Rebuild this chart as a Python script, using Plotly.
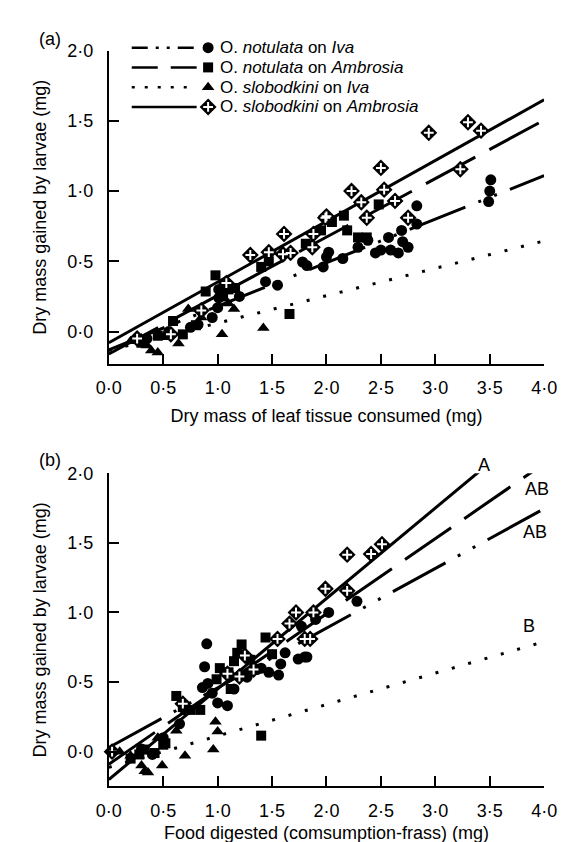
import plotly.graph_objects as go

W, H = 573, 842
FONT = "Liberation Sans, Arial, sans-serif"

# ---------------- tick labels ----------------
X_TICKS = [0, 0.5, 1.0, 1.5, 2.0, 2.5, 3.0, 3.5, 4.0]
X_TICK_TEXT = ["0·0", "0·5", "1·0", "1·5", "2·0", "2·5", "3·0", "3·5", "4·0"]
Y_TICKS = [0, 0.5, 1.0, 1.5, 2.0]
Y_TICK_TEXT = ["0·0", "0·5", "1·0", "1·5", "2·0"]

SERIES = ["notIva", "notAmb", "sloIva", "sloAmb"]
LEGEND_TEXT = ["O. <i>notulata</i> on <i>Iva</i>",
               "O. <i>notulata</i> on <i>Ambrosia</i>",
               "O. <i>slobodkini</i> on <i>Iva</i>",
               "O. <i>slobodkini</i> on <i>Ambrosia</i>"]

# ---------------- panel (a): consumed vs gained ----------------
a_notIva_x = [0.35, 0.55, 0.75, 0.82, 0.95, 1.0, 1.01, 1.01, 1.2, 1.44, 1.55, 1.78, 1.82, 1.97, 2.0, 2.02,
              2.15, 2.29, 2.38, 2.45, 2.5, 2.57, 2.59, 2.66, 2.69, 2.70, 2.75, 2.83, 2.83, 3.49, 3.5, 3.51]
a_notIva_y = [-0.05, 0.0, 0.03, 0.05, 0.1, 0.17, 0.24, 0.3, 0.25, 0.355, 0.33, 0.495, 0.47, 0.46, 0.53, 0.565,
              0.52, 0.6, 0.65, 0.56, 0.58, 0.67, 0.58, 0.56, 0.72, 0.64, 0.6, 0.765, 0.895, 0.925, 1.0, 1.08]
a_notAmb_x = [0.3, 0.45, 0.59, 0.68, 0.8, 0.89, 0.98, 1.05, 1.1, 1.16, 1.4, 1.47, 1.66, 1.81, 1.95, 2.05,
              2.16, 2.19, 2.29, 2.37, 2.48]
a_notAmb_y = [-0.08, -0.03, 0.075, -0.02, 0.045, 0.285, 0.4, 0.25, 0.3, 0.31, 0.46, 0.5, 0.125, 0.625, 0.72,
              0.78, 0.825, 0.72, 0.67, 0.67, 0.905]
a_sloIva_x = [0.2, 0.3, 0.35, 0.39, 0.45, 0.5, 0.64, 0.73, 0.85, 1.04, 1.1, 1.15, 1.42]
a_sloIva_y = [-0.07, -0.05, -0.1, -0.135, -0.15, -0.04, -0.085, 0.16, 0.1, -0.02, 0.2, 0.16, 0.025]
a_sloAmb_x = [0.26, 0.57, 0.85, 1.08, 1.3, 1.47, 1.6, 1.61, 1.67, 1.87, 1.88, 1.99, 2.0, 2.23, 2.32, 2.37,
              2.5, 2.53, 2.63, 2.75, 2.94, 3.23, 3.3, 3.42]
a_sloAmb_y = [-0.05, -0.02, 0.15, 0.345, 0.545, 0.565, 0.55, 0.695, 0.56, 0.60, 0.695, 0.81, 0.82, 1.0, 0.92,
              0.81, 1.165, 1.01, 0.93, 0.81, 1.415, 1.155, 1.49, 1.43]

# fitted regression lines (values read at x = 0 and x = 4)
FIT_X = [0, 4]
a_fit = {"notIva": [-0.13, 1.11], "notAmb": [-0.16, 1.505], "sloIva": [-0.135, 0.645], "sloAmb": [-0.08, 1.65]}

# ---------------- panel (b): digested vs gained ----------------
b_notIva_x = [0.3, 0.4, 0.5, 0.65, 0.7, 0.86, 0.88, 0.9, 0.91, 0.95, 1.0, 1.09, 1.15, 1.27, 1.36, 1.4, 1.47,
              1.56, 1.58, 1.62, 1.74, 1.77, 1.8, 1.82, 1.9, 2.02, 2.28]
b_notIva_y = [0.02, -0.02, 0.1, 0.2, 0.3, 0.46, 0.61, 0.775, 0.49, 0.42, 0.35, 0.33, 0.45, 0.535, 0.59, 0.6,
              0.57, 0.55, 0.63, 0.71, 0.665, 0.9, 0.68, 0.68, 0.95, 1.0, 1.08]
b_notAmb_x = [0.2, 0.28, 0.33, 0.42, 0.5, 0.52, 0.62, 0.68, 0.75, 0.84, 0.99, 1.02, 1.1, 1.12, 1.15, 1.18,
              1.22, 1.3, 1.4, 1.44, 1.5]
b_notAmb_y = [-0.05, -0.02, 0.015, -0.01, 0.05, 0.06, 0.4, 0.32, 0.3, 0.3, 0.52, 0.6, 0.57, 0.45, 0.65, 0.71,
              0.77, 0.66, 0.115, 0.82, 0.7]
b_sloIva_x = [0.1, 0.2, 0.3, 0.33, 0.36, 0.45, 0.49, 0.62, 0.7, 0.96, 0.98, 1.0]
b_sloIva_y = [0.0, -0.03, -0.1, -0.14, -0.15, 0.1, -0.1, 0.15, -0.03, 0.015, 0.215, 0.145]
b_sloAmb_x = [0.03, 0.68, 1.09, 1.2, 1.25, 1.33, 1.55, 1.66, 1.72, 1.8, 1.85, 1.88, 1.99, 2.19, 2.19, 2.41, 2.51]
b_sloAmb_y = [0.0, 0.345, 0.56, 0.54, 0.69, 0.59, 0.81, 0.92, 1.0, 0.81, 0.81, 1.0, 1.17, 1.155, 1.415, 1.42, 1.49]

b_fit = {"notIva": [0.03, 1.745], "notAmb": [-0.09, 2.07], "sloIva": [-0.113, 0.79], "sloAmb": [-0.2, 2.4]}

# significance letters and their positions in panel (b) data units
b_letters = ["A", "AB", "AB", "B"]
b_letters_x = [3.45, 3.93, 3.92, 3.86]
b_letters_y = [2.06, 1.89, 1.575, 0.90]

# ---------------- styles ----------------
MARKER = {
    "notIva": dict(symbol="circle", size=11, color="black"),
    "notAmb": dict(symbol="square", size=10, color="black"),
    "sloIva": dict(symbol="triangle-up", size=11, color="black"),
    "sloAmb": dict(symbol="diamond", size=13, color="black"),
}
CROSS = dict(symbol="cross-thin", size=7, color="white", line=dict(color="white", width=2))
DASH = {"notIva": "60px,14px,3px,14px,3px,14px", "notAmb": "56px,16px",
        "sloIva": "3px,14px", "sloAmb": "solid"}
LEG_DASH = {"notIva": "16px,8px,3px,8px,3px,8px", "notAmb": "26px,13px",
            "sloIva": "3px,10px", "sloAmb": "solid"}

data_a = {"notIva": (a_notIva_x, a_notIva_y), "notAmb": (a_notAmb_x, a_notAmb_y),
          "sloIva": (a_sloIva_x, a_sloIva_y), "sloAmb": (a_sloAmb_x, a_sloAmb_y)}
data_b = {"notIva": (b_notIva_x, b_notIva_y), "notAmb": (b_notAmb_x, b_notAmb_y),
          "sloIva": (b_sloIva_x, b_sloIva_y), "sloAmb": (b_sloAmb_x, b_sloAmb_y)}

fig = go.Figure()

for data, fits, xa, ya in [(data_a, a_fit, "x", "y"), (data_b, b_fit, "x2", "y2")]:
    for s in SERIES:
        fig.add_trace(go.Scatter(x=FIT_X, y=fits[s], mode="lines", xaxis=xa, yaxis=ya,
                                 line=dict(color="black", width=3, dash=DASH[s]),
                                 showlegend=False, hoverinfo="skip"))
    for s in ["sloIva", "notAmb", "notIva", "sloAmb"]:
        x, y = data[s]
        fig.add_trace(go.Scatter(x=x, y=y, mode="markers", xaxis=xa, yaxis=ya,
                                 marker=MARKER[s], showlegend=False, cliponaxis=False))
        if s == "sloAmb":
            fig.add_trace(go.Scatter(x=x, y=y, mode="markers", xaxis=xa, yaxis=ya,
                                     marker=CROSS, showlegend=False, cliponaxis=False, hoverinfo="skip"))

# ---------------- hand-drawn legend (pixel overlay) ----------------
LEG_ROWS = [30, 50, 70, 90]
LEG_LINE = [116, 184]
LEG_MARK_X = 196
LEG_TEXT_X = 207
LEG_FONT = dict(size=17, family=FONT, color="black")
for s, row, label in zip(SERIES, LEG_ROWS, LEGEND_TEXT):
    fig.add_trace(go.Scatter(x=LEG_LINE, y=[row, row], mode="lines", xaxis="x3", yaxis="y3",
                             line=dict(color="black", width=2.5, dash=LEG_DASH[s]),
                             showlegend=False, hoverinfo="skip"))
    fig.add_trace(go.Scatter(x=[LEG_MARK_X], y=[row], mode="markers", xaxis="x3", yaxis="y3",
                             marker=MARKER[s], showlegend=False, hoverinfo="skip"))
    if s == "sloAmb":
        fig.add_trace(go.Scatter(x=[LEG_MARK_X], y=[row], mode="markers", xaxis="x3", yaxis="y3",
                                 marker=CROSS, showlegend=False, hoverinfo="skip"))
    fig.add_annotation(x=LEG_TEXT_X, y=row, xref="x3", yref="y3", text=label, showarrow=False,
                       xanchor="left", yanchor="middle", borderpad=0, font=LEG_FONT)

# ---------------- axes ----------------
X0_PX, X1_PX = 92, 548
x_dom = [X0_PX / W, X1_PX / W]
YA_BOT, YA_TOP = 350, 33
YB_BOT, YB_TOP = 777.7, 460.7
ya_dom = [(H - YA_BOT) / H, (H - YA_TOP) / H]
yb_dom = [(H - YB_BOT) / H, (H - YB_TOP) / H]
YA_RANGE = [-0.23, 2.0]
YB_RANGE = [-0.25, 2.0]

tickfont = dict(size=18, family=FONT, color="black")
common_x = dict(range=[0, 4], tickvals=X_TICKS, ticktext=X_TICK_TEXT, showline=True, linecolor="black",
                linewidth=2, ticks="inside", ticklen=10, tickwidth=2, tickcolor="black", showgrid=False,
                zeroline=False, tickfont=tickfont, ticklabelstandoff=7, domain=x_dom, fixedrange=True)
common_y = dict(tickvals=Y_TICKS, ticktext=Y_TICK_TEXT, showline=True, linecolor="black",
                linewidth=2, ticks="inside", ticklen=10, tickwidth=2, tickcolor="black", showgrid=False,
                zeroline=False, tickfont=tickfont, ticklabelstandoff=10, fixedrange=True)

fig.update_layout(
    width=W, height=H, margin=dict(l=0, r=0, t=0, b=0),
    paper_bgcolor="white", plot_bgcolor="rgba(0,0,0,0)",
    font=dict(family=FONT, size=18, color="black"),
    xaxis=dict(**common_x, anchor="y",
               title=dict(text="Dry mass of leaf tissue consumed (mg)", font=tickfont, standoff=12)),
    yaxis=dict(**common_y, range=YA_RANGE, domain=ya_dom, anchor="x",
               title=dict(text="Dry mass gained by larvae (mg)", font=tickfont, standoff=16)),
    xaxis2=dict(**common_x, anchor="y2",
                title=dict(text="Food digested (comsumption-frass) (mg)", font=tickfont, standoff=6)),
    yaxis2=dict(**common_y, range=YB_RANGE, domain=yb_dom, anchor="x2",
                title=dict(text="Dry mass gained by larvae (mg)", font=tickfont, standoff=16)),
    xaxis3=dict(domain=[0, 1], range=[0, W], visible=False, anchor="y3", fixedrange=True),
    yaxis3=dict(domain=[0, 1], range=[H, 0], visible=False, anchor="x3", fixedrange=True),
    showlegend=False,
)

fig.add_annotation(x=17 / W, y=1 - 21 / H, xref="paper", yref="paper", text="(a)", showarrow=False,
                   xanchor="left", yanchor="middle", font=tickfont)
fig.add_annotation(x=17 / W, y=1 - 447 / H, xref="paper", yref="paper", text="(b)", showarrow=False,
                   xanchor="left", yanchor="middle", font=tickfont)

# letters: converted from panel-(b) data units to paper units (some sit above the axis top)
def bx(v):
    return x_dom[0] + (x_dom[1] - x_dom[0]) * v / 4.0

def by(v):
    return yb_dom[0] + (yb_dom[1] - yb_dom[0]) * (v - YB_RANGE[0]) / (YB_RANGE[1] - YB_RANGE[0])

for t, lx, ly in zip(b_letters, b_letters_x, b_letters_y):
    fig.add_annotation(x=bx(lx), y=by(ly), xref="paper", yref="paper", text=t, showarrow=False,
                       xanchor="center", yanchor="middle", font=tickfont)

fig.write_html("out.html")
